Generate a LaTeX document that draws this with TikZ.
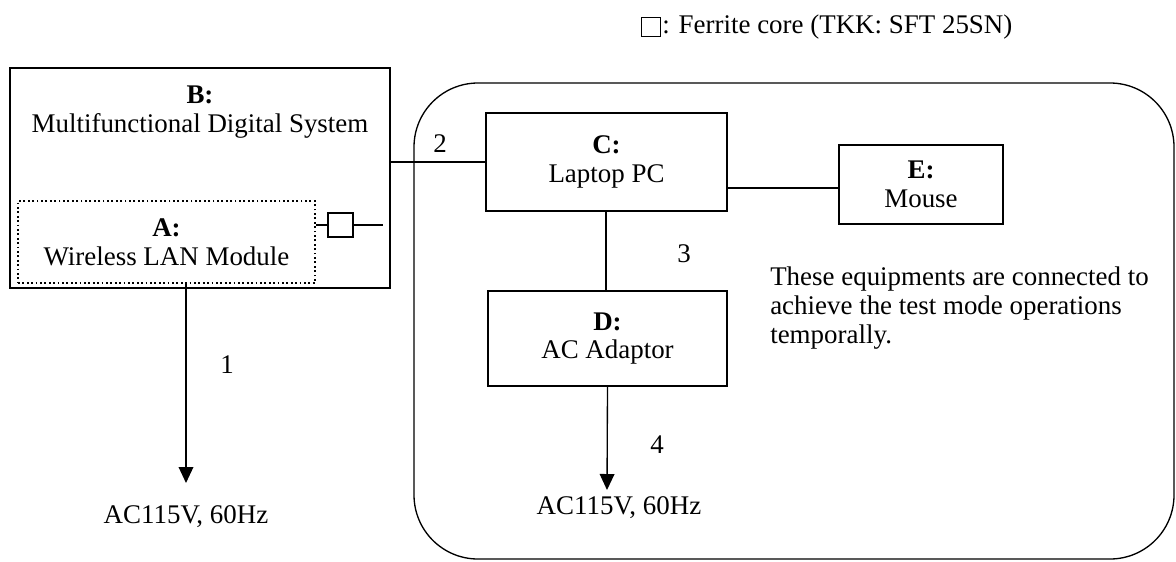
\documentclass[tikz,border=0pt]{standalone}
\usepackage{fontspec}
\setmainfont{Liberation Serif}
\usetikzlibrary{arrows.meta}

\begin{document}
\begin{tikzpicture}[x=0.75pt, y=-0.75pt,
	font=\fontsize{20.2}{21.5}\selectfont,
	unit/.style={draw, line width=1.3pt, inner sep=0pt, align=center},
	conn/.style={line width=1pt},
	arr/.style={conn, -{Triangle[width=11pt,length=12pt]}},
	core/.style={draw, line width=1.1pt, minimum width=18.5pt, minimum height=18pt, inner sep=0pt}]
	
	\useasboundingbox (0,0) rectangle (1176,561);
	
	% legend
	\node[core, minimum width=14pt, minimum height=14pt] (lgsq) at (651,27) {};
	\node[anchor=west, inner sep=0pt] (lgtxt) at (662,27) {: Ferrite core (TKK: SFT 25SN)};
	
	% group of test equipments
	\draw[line width=1pt, rounded corners=48pt] (414,83) rectangle (1174,559);
	
	\node[unit, minimum width=285pt, minimum height=165pt] (B) at (200,178) {};
	\node[inner sep=0pt, align=center] (Btxt) at (200,112) {\textbf{B:}\\Multifunctional Digital System};
	\node[unit, dotted, line width=1pt, minimum width=222.75pt, minimum height=61.5pt] (A) at (166.5,242) {\textbf{A:}\\Wireless LAN Module};
	
	\node[unit, minimum width=180.75pt, minimum height=73.5pt] (C) at (606.5,162) {\textbf{C:}\\Laptop PC};
	\node[unit, minimum width=179.25pt, minimum height=71.25pt] (D) at (607.5,338.5) {\textbf{D:}\\AC Adaptor};
	\node[unit, minimum width=123pt, minimum height=59.25pt] (E) at (921,184.5) {\textbf{E:}\\Mouse};
	
	% ferrite core on the module line
	\node[core] (fc) at (340.5,225) {};
	\coordinate (fcend) at (383,225);
	\draw[conn] (fc.west) -- (fc.west -| A.east);
	\draw[conn] (fc.east) -- (fcend);
	
	% cables
	\draw[conn] (C.west) -- (C.west -| B.east);
	\draw[conn] (C.east |- 0,188) -- (E.west |- 0,188);
	\draw[conn] (C.south -| 606,0) -- (D.north -| 606,0);
	
	\coordinate (pw1) at (186,483);
	\coordinate (pw4) at (607,490);
	\draw[arr] (pw1 |- A.south) -- (pw1);
	\draw[arr] (D.south) -- (pw4);
	
	\node[inner sep=0pt] (acL) at (186,517) {AC115V, 60Hz};
	\node[inner sep=0pt] (acR) at (619,508) {AC115V, 60Hz};
	
	\node (n1) at (227,365) {1};
	\node (n2) at (440,144) {2};
	\node (n3) at (684,254) {3};
	\node (n4) at (657,445) {4};
	
	\node[anchor=north west, inner sep=0pt, align=left] (note) at (770,267) {These equipments are connected to\\achieve the test mode operations\\temporally.};
	
\end{tikzpicture}
\end{document}
